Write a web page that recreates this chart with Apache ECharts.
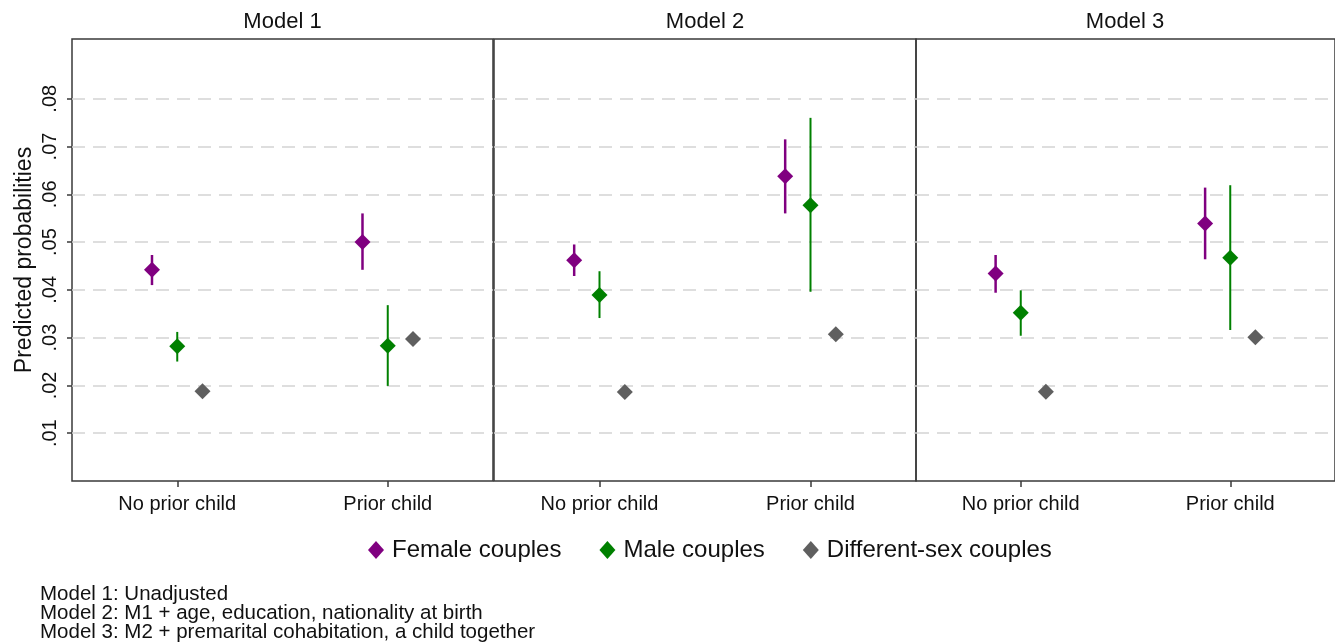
<!DOCTYPE html>
<html>
<head>
<meta charset="utf-8">
<script src="https://cdn.jsdelivr.net/npm/echarts@6/dist/echarts.min.js"></script>
<style>
html,body{margin:0;padding:0;background:#fff;}
#c{width:1335px;height:644px;}
</style>
</head>
<body>
<div id="c"></div>
<script>
// ---- data ----
const categories = ['No prior child', 'Prior child'];
const models = ['Model 1', 'Model 2', 'Model 3'];
const groups = ['Female couples', 'Male couples', 'Different-sex couples'];
const yTicks = [0.01, 0.02, 0.03, 0.04, 0.05, 0.06, 0.07, 0.08];

// [model][category]
const femaleEst  = [[0.0442, 0.0500], [0.0462, 0.0638], [0.0434, 0.0539]];
const femaleLow  = [[0.0410, 0.0442], [0.0429, 0.0560], [0.0394, 0.0464]];
const femaleHigh = [[0.0473, 0.0560], [0.0495, 0.0715], [0.0473, 0.0614]];
const maleEst    = [[0.0282, 0.0283], [0.0389, 0.0577], [0.0352, 0.0467]];
const maleLow    = [[0.0250, 0.0199], [0.0341, 0.0396], [0.0304, 0.0316]];
const maleHigh   = [[0.0312, 0.0368], [0.0439, 0.0760], [0.0399, 0.0619]];
const diffEst    = [[0.0188, 0.0297], [0.0186, 0.0307], [0.0187, 0.0301]];

const notes = [
  'Model 1: Unadjusted',
  'Model 2: M1 + age, education, nationality at birth',
  'Model 3: M2 + premarital cohabitation, a child together'
];

// ---- style / layout ----
const FONT = '"Liberation Sans", Arial, Helvetica, sans-serif';
const colors = ['#800080', '#008000', '#5f5f5f'];
const offsets = [-0.12, 0, 0.12];
const barWidths = [2.5, 2, 2];
const frameColor = '#3a3a3a';
const panelTop = 39, panelHeight = 442;
const panels = [{left: 72, width: 421}, {left: 494, width: 422}, {left: 916, width: 422}];

const est = [femaleEst, maleEst, diffEst];
const low = [femaleLow, maleLow, null];
const high = [femaleHigh, maleHigh, null];

function makeRender(gi) {
  return function (params, api) {
    const xi = api.value(0);
    const c = api.coord([xi, api.value(1)]);
    const band = api.size([1, 0])[0];
    const px = c[0] + band * offsets[gi];
    const children = [];
    if (low[gi]) {
      const lo = api.coord([xi, api.value(2)]);
      const hi = api.coord([xi, api.value(3)]);
      children.push({
        type: 'line',
        shape: {x1: px, y1: lo[1], x2: px, y2: hi[1]},
        style: {stroke: colors[gi], lineWidth: barWidths[gi]}
      });
    }
    const s = 8;
    children.push({
      type: 'polygon',
      shape: {points: [[px, c[1] - s], [px + s, c[1]], [px, c[1] + s], [px - s, c[1]]]},
      style: {fill: colors[gi]}
    });
    return {type: 'group', children: children};
  };
}

const grid = panels.map(p => ({
  left: p.left, top: panelTop, width: p.width, height: panelHeight,
  show: true, borderColor: frameColor, borderWidth: 1.5, backgroundColor: 'transparent',
  containLabel: false
}));

const xAxis = panels.map((p, i) => ({
  type: 'category', gridIndex: i, data: categories, boundaryGap: true,
  axisLine: {show: false},
  axisTick: {show: true, alignWithLabel: true, interval: 0, length: 6, inside: false,
             lineStyle: {color: frameColor, width: 1.5}},
  axisLabel: {show: true, interval: 0, margin: 13, color: '#111', fontSize: 20, fontFamily: FONT},
  splitLine: {show: false}
}));

const yAxis = panels.map((p, i) => ({
  type: 'value', gridIndex: i, min: 0, max: 0.0925,
  name: i === 0 ? 'Predicted probabilities' : '',
  nameLocation: 'middle', nameRotate: 90, nameGap: 36,
  nameTextStyle: {color: '#111', fontSize: 23, fontFamily: FONT},
  axisLine: {show: false},
  axisTick: {show: i === 0, length: 5, customValues: yTicks, lineStyle: {color: frameColor, width: 1.5}},
  axisLabel: {show: i === 0, customValues: yTicks, rotate: 90, margin: 12, color: '#111',
              fontSize: 20, fontFamily: FONT,
              formatter: v => v.toFixed(2).replace(/^0/, '')},
  splitLine: {show: true, lineStyle: {color: '#d4d4d4', width: 1.6, type: [13, 8]}}
}));

const series = [];
models.forEach((m, mi) => {
  groups.forEach((g, gi) => {
    const data = categories.map((c, ci) => low[gi]
      ? [ci, est[gi][mi][ci], low[gi][mi][ci], high[gi][mi][ci]]
      : [ci, est[gi][mi][ci]]);
    series.push({
      type: 'custom', name: g, xAxisIndex: mi, yAxisIndex: mi,
      itemStyle: {color: colors[gi]},
      renderItem: makeRender(gi),
      encode: {x: 0, y: 1},
      data: data,
      z: 3
    });
  });
});

const graphic = models.map((m, i) => ({
  type: 'text',
  x: panels[i].left + panels[i].width / 2 - (i === 2 ? 2 : 0),
  y: 22,
  style: {text: m, align: 'center', verticalAlign: 'middle', fill: '#111', font: '22px ' + FONT}
}));
graphic.push({
  type: 'text', x: 40, y: 585,
  style: {text: notes.join('\n'), fill: '#111', font: '20.5px ' + FONT, lineHeight: 19,
          verticalAlign: 'top', align: 'left'}
});

const option = {
  backgroundColor: '#ffffff',
  animation: false,
  grid: grid,
  xAxis: xAxis,
  yAxis: yAxis,
  legend: {
    left: 363, top: 533,
    itemWidth: 16, itemHeight: 18, itemGap: 38,
    icon: 'diamond',
    data: groups.map((g, gi) => ({name: g, icon: 'diamond', itemStyle: {color: colors[gi]}})),
    textStyle: {color: '#111', fontSize: 24, fontFamily: FONT, padding: [0, 0, 0, 3]}
  },
  graphic: graphic,
  series: series
};

const chart = echarts.init(document.getElementById('c'), null, {renderer: 'canvas'});
chart.setOption(option);
</script>
</body>
</html>
